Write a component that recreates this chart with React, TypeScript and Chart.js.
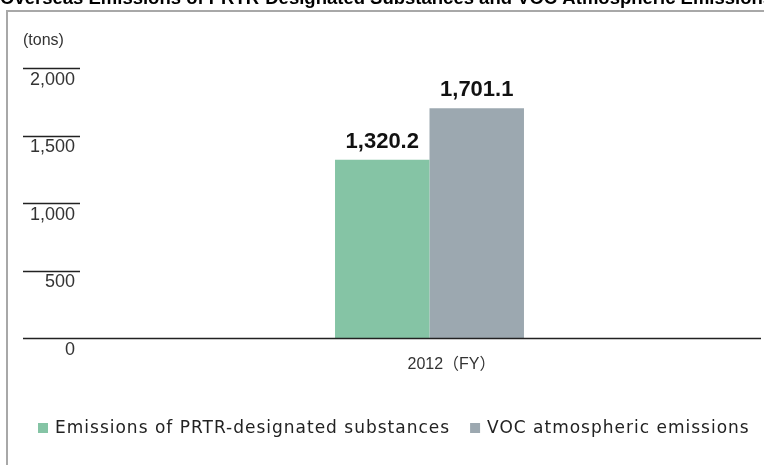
import React, { useEffect, useRef } from "react";
import { Chart, registerables } from "chart.js";

Chart.register(...registerables);

const title = "Overseas Emissions of PRTR-Designated Substances and VOC Atmospheric Emissions";
const unitLabel = "(tons)";
const categories = ["2012（FY）"];
const seriesNames = ["Emissions of PRTR-designated substances", "VOC atmospheric emissions"];
const prtrValues = [1320.2];
const vocValues = [1701.1];
const seriesColors = ["#85c4a5", "#9ca8b0"];
const yTicks = [0, 500, 1000, 1500, 2000];

const fmtTick = (v: number) => v.toLocaleString("en-US");
const fmtVal = (v: number) => v.toLocaleString("en-US", { minimumFractionDigits: 1, maximumFractionDigits: 1 });

const decorPlugin = {
  id: "decor",
  beforeDraw(chart: any) {
    const { ctx, chartArea, width, height } = chart;
    ctx.save();
    ctx.fillStyle = "#ffffff";
    ctx.fillRect(0, 0, width, height);
    // frame
    ctx.strokeStyle = "#a8a8a8";
    ctx.lineWidth = 2;
    ctx.beginPath();
    ctx.moveTo(7, height);
    ctx.lineTo(7, 11);
    ctx.lineTo(width, 11);
    ctx.stroke();
    // title (cropped at top)
    ctx.fillStyle = "#000";
    ctx.font = "bold 18.5px 'Liberation Sans', Arial, sans-serif";
    ctx.textBaseline = "alphabetic";
    ctx.textAlign = "left";
    ctx.fillText(title, 0, 4);
    // unit label
    ctx.fillStyle = "#333";
    ctx.font = "16px 'Liberation Sans', Arial, sans-serif";
    ctx.textBaseline = "middle";
    ctx.fillText(unitLabel, chartArea.left - 75, chartArea.top - 27);
    ctx.restore();
  },
  afterDraw(chart: any) {
    const { ctx, chartArea } = chart;
    const y = chart.scales.y;
    ctx.save();
    ctx.strokeStyle = "#222";
    ctx.lineWidth = 1.5;
    y.ticks.forEach((t: any) => {
      const py = Math.round(y.getPixelForValue(t.value)) + 0.5;
      ctx.beginPath();
      ctx.moveTo(chartArea.left - 75, py);
      ctx.lineTo(t.value === 0 ? chartArea.right : chartArea.left - 18, py);
      ctx.stroke();
    });
    // value labels
    ctx.fillStyle = "#111";
    ctx.font = "bold 22px 'Liberation Sans', Arial, sans-serif";
    ctx.textAlign = "center";
    ctx.textBaseline = "alphabetic";
    chart.data.datasets.forEach((ds: any, i: number) => {
      const meta = chart.getDatasetMeta(i);
      meta.data.forEach((el: any, j: number) => {
        ctx.fillText(fmtVal(ds.data[j]), el.x, el.y - 12);
      });
    });
    // legend
    ctx.font = "17px 'DejaVu Sans', Verdana, sans-serif";
    (ctx as any).letterSpacing = "1px";
    ctx.textAlign = "left";
    ctx.textBaseline = "middle";
    let x = chartArea.left - 60;
    const ly = 428;
    chart.data.datasets.forEach((ds: any) => {
      ctx.fillStyle = ds.backgroundColor;
      ctx.fillRect(x, ly - 5, 10, 10);
      x += 10 + 7;
      ctx.fillStyle = "#222";
      ctx.fillText(ds.label, x, ly + 1);
      x += ctx.measureText(ds.label).width + 20;
    });
    ctx.restore();
  },
};

export default function App() {
  const ref = useRef<HTMLCanvasElement>(null);
  useEffect(() => {
    if (!ref.current) return;
    const chart = new Chart(ref.current, {
      type: "bar",
      data: {
        labels: categories,
        datasets: [
          { label: seriesNames[0], data: prtrValues, backgroundColor: seriesColors[0], categoryPercentage: 0.285, barPercentage: 1 },
          { label: seriesNames[1], data: vocValues, backgroundColor: seriesColors[1], categoryPercentage: 0.285, barPercentage: 1 },
        ],
      },
      options: {
        animation: false,
        responsive: false,
        maintainAspectRatio: false,
        layout: { padding: { top: 68, left: 0, right: 3, bottom: 0 } },
        plugins: { legend: { display: false }, tooltip: { enabled: false }, title: { display: false } },
        scales: {
          x: {
            grid: { display: false, drawTicks: false, tickLength: 0 },
            border: { display: false },
            ticks: {
              color: "#333",
              font: { family: "'Liberation Sans', 'Noto Sans CJK JP', Arial, sans-serif", size: 16 },
              padding: 17,
              labelOffset: 22,
            },
            afterFit: (s: any) => { s.height = 127; },
          },
          y: {
            min: 0,
            max: 2000,
            afterBuildTicks: (s: any) => { s.ticks = yTicks.map((v) => ({ value: v })); },
            grid: { display: false, drawTicks: false, tickLength: 0 },
            border: { display: false },
            ticks: {
              color: "#333",
              font: { family: "'Liberation Sans', Arial, sans-serif", size: 18 },
              padding: 23,
              labelOffset: 12,
              callback: (v: any) => fmtTick(Number(v)),
            },
            afterFit: (s: any) => { s.width = 98; },
          },
        },
      },
      plugins: [decorPlugin],
    });
    return () => chart.destroy();
  }, []);
  return (
    <div style={{ position: "fixed", left: 0, top: 0, width: 764, height: 465, background: "#fff" }}>
      <canvas ref={ref} width={764} height={465} style={{ display: "block", width: 764, height: 465 }} />
    </div>
  );
}
